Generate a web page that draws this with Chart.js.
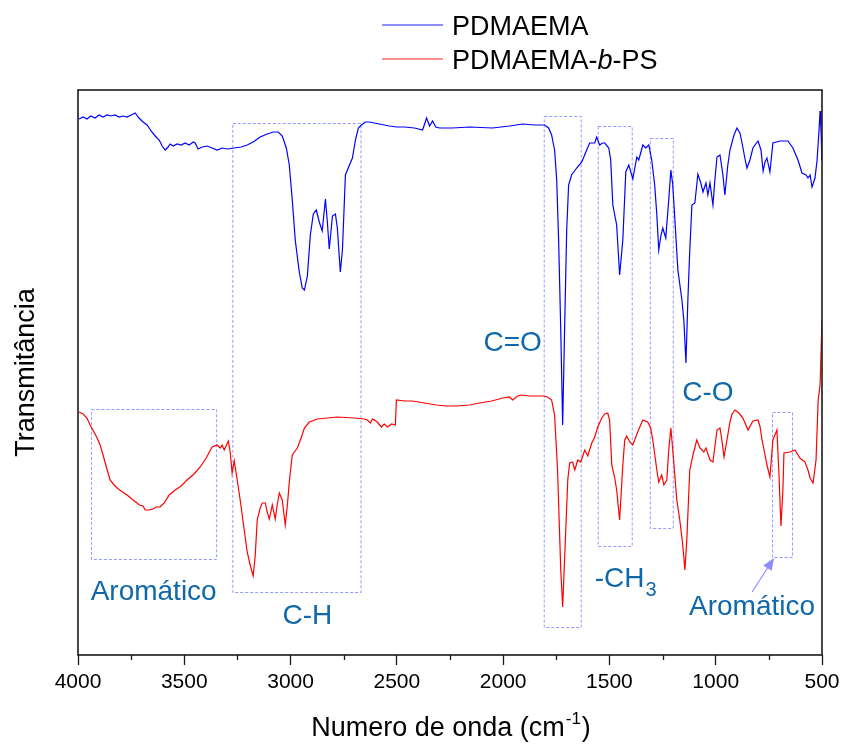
<!DOCTYPE html>
<html>
<head>
<meta charset="utf-8">
<script src="https://cdn.jsdelivr.net/npm/chart.js@4.4.1/dist/chart.umd.min.js"></script>
<style>
  body { margin: 0; background: #fff; }
  canvas { display: block; }
</style>
</head>
<body>
<canvas id="ftirChart" width="841" height="744"></canvas>
<script>
// PDMAEMA (blue) - wavenumber / transmittance (arb. units)
const blueWn = [3995,3976,3958,3939,3920,3901,3882,3863,3845,3826,3807,3788,3769,3750,3731,3713,3694,3675,3656,3637,3618,3604,3590,3576,3567,3552,3534,3515,3496,3477,3458,3449,3435,3416,3392,3369,3345,3322,3298,3265,3232,3204,3176,3143,3110,3081,3058,3039,3020,3006,2992,2978,2959,2945,2935,2921,2907,2893,2879,2865,2851,2836,2827,2818,2803,2789,2780,2766,2756,2742,2723,2709,2695,2681,2667,2648,2629,2582,2535,2502,2464,2417,2379,2360,2346,2332,2317,2299,2238,2158,2050,1970,1908,1852,1805,1786,1772,1758,1748,1739,1729,1720,1711,1701,1692,1678,1654,1630,1607,1593,1569,1560,1546,1532,1522,1503,1494,1484,1466,1452,1437,1423,1409,1390,1371,1362,1343,1329,1315,1301,1287,1277,1268,1258,1249,1235,1221,1211,1202,1192,1178,1159,1150,1140,1131,1122,1112,1098,1084,1070,1060,1046,1037,1027,1013,1004,994,980,966,957,943,933,914,900,886,877,863,853,839,825,801,787,777,768,759,745,731,698,660,637,613,594,575,566,556,547,533,523,514,509,505,500];
const blueT = [107.2,107.6,107.2,107.8,107.4,108,107.6,108,107.8,108,107.6,107.8,107.6,108,108.4,107.4,106.6,106,104.8,103.8,103,101.8,101,101.6,102.2,101.8,102.2,102,102.4,102,102.6,102.4,101.2,101.6,101.8,101.4,101,101.4,101.2,101.4,101.6,102,102.6,103.6,104.2,104.6,104.6,103.8,101.4,98,91,83,76.6,73.4,73,75.8,84,88.2,89,86.6,84.8,91.2,86.6,81.2,87.8,88.2,85.4,76.6,81,96,98,99.4,103,105.4,106,106.6,106.6,106.2,105.8,105.6,105.6,105.4,105,107.4,105.8,106.8,105.6,105.4,105.4,105.6,105.4,105.8,106.2,106,106,105.4,104,101,95,83,65,46,65,85,94,96,97.4,98.6,101,102.4,102.4,103.6,102,102.4,102.4,101.4,99,90,86,76,83,96.6,98,95.2,99.6,99,102,101.4,102,99,94,88,81,83.8,85.4,83.4,91,97,94,87,77,71,67,58.4,71,81,90,90.4,96.2,94.4,92.6,94.4,92,94.4,90,95,99.6,100,96,92,98,101,104,105.4,104.4,102.6,99.4,97.4,99,101.4,102.8,101,96.8,98.6,99.4,96.6,102.4,102.8,102.8,101.4,99,96.4,96,95.4,96,93.6,95.4,99,105,108.8,105,99];

// PDMAEMA-b-PS (red)
const redWn = [3995,3976,3958,3943,3925,3910,3896,3882,3868,3849,3830,3816,3797,3769,3741,3722,3712,3694,3684,3666,3647,3633,3614,3595,3571,3543,3515,3487,3454,3425,3397,3369,3345,3331,3322,3312,3293,3284,3275,3265,3251,3237,3218,3204,3190,3176,3166,3157,3143,3133,3119,3110,3100,3086,3072,3063,3053,3039,3025,3015,3006,2992,2968,2949,2935,2912,2874,2780,2700,2653,2639,2624,2615,2606,2592,2573,2559,2544,2525,2507,2502,2464,2427,2370,2314,2266,2219,2158,2111,2054,2002,1970,1955,1932,1913,1875,1814,1791,1772,1758,1744,1729,1720,1711,1696,1687,1673,1663,1649,1635,1616,1602,1583,1569,1555,1536,1522,1508,1499,1489,1475,1466,1452,1437,1428,1419,1404,1390,1367,1343,1320,1306,1296,1277,1268,1254,1244,1230,1221,1211,1202,1183,1169,1155,1145,1136,1122,1107,1089,1074,1056,1046,1027,1013,994,980,971,961,947,933,923,909,891,872,848,825,801,792,782,768,759,745,731,712,703,693,684,679,651,627,604,580,566,556,542,528,518,509,500];
const redT = [48.6,48.2,47.4,46,44.6,43.4,42,40,37.8,35,34,33.4,32.8,32,31,30.4,30,29.8,29,29,29.2,29.6,29.6,30.4,32,33,33.8,35,36.2,37.6,39.4,41.6,42,41.4,42,41,42.8,40.6,36.4,38.8,35,31,25,20.6,18,15.8,20,27,29.4,30.4,30.4,28.6,27.2,30,27.2,30,32.4,31,26,30,34.6,40,41.4,43.6,45.4,46.6,47.2,47.6,47.4,47.2,47,46.4,47.2,47,46.6,45.6,46.2,45.6,46.2,46,51,50.8,50.8,50.4,50,49.8,49.8,50,50.4,50.8,51.4,51.6,51,51.8,52,51.8,51.8,51.6,51,48,37,17,9.6,19,35,38.4,38.6,37,39,38.6,41,39.8,42.4,43.6,45.6,47.4,48.2,48.4,47,38,35.4,33,27,38,43,43.8,42.6,42,44.6,47,46.6,45.4,43,37,34.6,36,34,35,41,45.4,41,31,27,22,17,23,37,40,43,41.4,40.6,41.4,39,38.6,45,45.4,43,39.6,43,46.6,48.2,49,48.4,47.4,45,46.8,47,45.8,43,40,38,35.6,43,45,36.6,25.8,33,40.4,40.6,41,39.4,38.6,37,35.4,34.4,39,51,54,67];

const seriesNames = ["PDMAEMA", "PDMAEMA-b-PS"];
const seriesColors = ["#0000ff", "#ff0000"];

// band boxes: [wnLeft, wnRight, top, bottom]
const bandBoxes = [
  [3274, 2671, 106.4, 12.6],
  [3939, 3350, 49.2, 19.2],
  [1809, 1635, 107.8, 5.6],
  [1555, 1395, 105.8, 21.8],
  [1310, 1202, 103.4, 25.4],
  [735, 641, 48.6, 19.6]
];
// band labels: [text, wn, value]
const bandLabels = [
  ["Aromático", 3644, 11],
  ["C-H", 2921, 6.2],
  ["C=O", 1955, 60.8],
  ["C-O", 1037, 50.8],
  ["Aromático", 829, 8]
];

const toPts = (xs, ys) => xs.map((x, i) => ({ x: x, y: ys[i] }));

const labelBlue = "#1068aa";
const boxColor = "rgba(110,120,255,0.75)";
const FONT = "'Liberation Sans', Arial, sans-serif";

const extras = {
  id: "extras",
  beforeDatasetsDraw(chart) {
    const ctx = chart.ctx, xs = chart.scales.x, ys = chart.scales.y;
    ctx.save();
    ctx.strokeStyle = boxColor;
    ctx.lineWidth = 1;
    ctx.setLineDash([3, 2]);
    bandBoxes.forEach(b => {
      const x1 = xs.getPixelForValue(b[0]), x2 = xs.getPixelForValue(b[1]);
      const y1 = ys.getPixelForValue(b[2]), y2 = ys.getPixelForValue(b[3]);
      ctx.strokeRect(x1 + 0.5, y1 + 0.5, x2 - x1, y2 - y1);
    });
    ctx.restore();
  },
  afterDraw(chart) {
    const ctx = chart.ctx, xs = chart.scales.x, ys = chart.scales.y, a = chart.chartArea;
    ctx.save();
    // frame
    ctx.strokeStyle = "#1a1a1a";
    ctx.lineWidth = 1.6;
    ctx.strokeRect(a.left, a.top, a.right - a.left, a.bottom - a.top);
    // minor ticks
    ctx.lineWidth = 1.3;
    for (let v = 750; v < 4000; v += 500) {
      const px = Math.round(xs.getPixelForValue(v)) + 0.5;
      ctx.beginPath();
      ctx.moveTo(px, a.bottom);
      ctx.lineTo(px, a.bottom + 5);
      ctx.stroke();
    }
    // band labels
    ctx.fillStyle = labelBlue;
    ctx.font = "28px " + FONT;
    ctx.textAlign = "center";
    ctx.textBaseline = "alphabetic";
    bandLabels.forEach(l => {
      ctx.fillText(l[0], xs.getPixelForValue(l[1]), ys.getPixelForValue(l[2]));
    });
    // -CH3 with subscript
    ctx.textAlign = "left";
    let cx = xs.getPixelForValue(1569), cy = ys.getPixelForValue(13.6);
    ctx.fillText("-CH", cx, cy);
    const w = ctx.measureText("-CH").width;
    ctx.font = "20px " + FONT;
    ctx.fillText("3", cx + w + 1, cy + 9);
    // arrow
    const tx = xs.getPixelForValue(829), ty = ys.getPixelForValue(12.6);
    const hx = xs.getPixelForValue(726), hy = ys.getPixelForValue(19.4);
    const ang = Math.atan2(hy - ty, hx - tx);
    ctx.strokeStyle = "#8c8cff";
    ctx.fillStyle = "#8c8cff";
    ctx.lineWidth = 1.2;
    ctx.beginPath();
    ctx.moveTo(tx, ty);
    ctx.lineTo(hx - 8 * Math.cos(ang), hy - 8 * Math.sin(ang));
    ctx.stroke();
    ctx.beginPath();
    ctx.moveTo(hx, hy);
    ctx.lineTo(hx - 12 * Math.cos(ang) + 5 * Math.sin(ang), hy - 12 * Math.sin(ang) - 5 * Math.cos(ang));
    ctx.lineTo(hx - 12 * Math.cos(ang) - 5 * Math.sin(ang), hy - 12 * Math.sin(ang) + 5 * Math.cos(ang));
    ctx.closePath();
    ctx.fill();
    // legend
    ctx.textBaseline = "alphabetic";
    ctx.lineWidth = 1.5;
    const legY = [25, 59];
    const legLine = ["rgba(40,40,255,0.7)", "rgba(255,40,40,0.7)"];
    seriesNames.forEach((n, i) => {
      ctx.strokeStyle = legLine[i];
      ctx.beginPath();
      ctx.moveTo(382, legY[i]);
      ctx.lineTo(443, legY[i]);
      ctx.stroke();
    });
    ctx.fillStyle = "#000";
    ctx.font = "27px " + FONT;
    ctx.fillText(seriesNames[0], 452, legY[0] + 10);
    let lx = 452;
    const parts = [["PDMAEMA-", "normal"], ["b", "italic"], ["-PS", "normal"]];
    parts.forEach(p => {
      ctx.font = p[1] + " 27px " + FONT;
      ctx.fillText(p[0], lx, legY[1] + 10);
      lx += ctx.measureText(p[0]).width;
    });
    // x title with superscript
    ctx.font = "27px " + FONT;
    const t1 = "Numero de onda (cm", sup = "-1", t2 = ")";
    const w1 = ctx.measureText(t1).width, w3 = ctx.measureText(t2).width;
    ctx.font = "17px " + FONT;
    const w2 = ctx.measureText(sup).width;
    let sx = (a.left + a.right) / 2 - (w1 + w2 + w3) / 2;
    const by = 736;
    ctx.font = "27px " + FONT;
    ctx.fillText(t1, sx, by);
    ctx.font = "17px " + FONT;
    ctx.fillText(sup, sx + w1 + 1, by - 12);
    ctx.font = "27px " + FONT;
    ctx.fillText(t2, sx + w1 + w2 + 2, by);
    // y title
    ctx.translate(34, (a.top + a.bottom) / 2);
    ctx.rotate(-Math.PI / 2);
    ctx.textAlign = "center";
    ctx.font = "27px " + FONT;
    ctx.fillText("Transmitância", 0, 0);
    ctx.restore();
  }
};

const data = {
  datasets: [
    {
      label: seriesNames[0],
      data: toPts(blueWn, blueT),
      borderColor: seriesColors[0],
      borderWidth: 1.2,
      pointRadius: 0,
      tension: 0
    },
    {
      label: seriesNames[1],
      data: toPts(redWn, redT),
      borderColor: seriesColors[1],
      borderWidth: 1.2,
      pointRadius: 0,
      tension: 0
    }
  ]
};

const config = {
  type: "line",
  data: data,
  options: {
    responsive: false,
    animation: false,
    layout: { padding: { left: 78, right: 19, top: 90, bottom: 0 } },
    plugins: {
      legend: { display: false },
      tooltip: { enabled: false }
    },
    scales: {
      x: {
        type: "linear",
        reverse: true,
        min: 500,
        max: 4000,
        ticks: {
          stepSize: 500,
          color: "#000",
          padding: 5,
          maxRotation: 0,
          font: { family: FONT, size: 21 },
          callback: (v) => String(v)
        },
        grid: { drawOnChartArea: false, tickLength: 10, color: "#1a1a1a", tickWidth: 1.3 },
        border: { display: false },
        afterFit: (scale) => { scale.height = 89; scale.paddingLeft = 0; scale.paddingRight = 0; }
      },
      y: { display: false, min: 0, max: 113 }
    }
  },
  plugins: [extras]
};

let myChart = new Chart(document.getElementById("ftirChart"), config);
</script>
</body>
</html>
